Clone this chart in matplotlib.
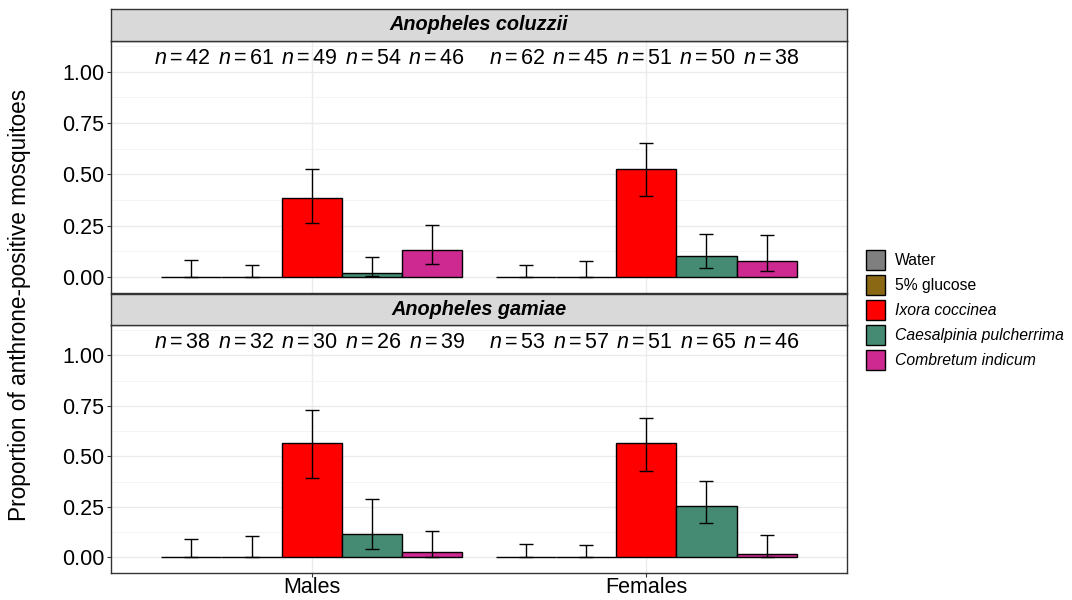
import numpy as np
import matplotlib
matplotlib.use("Agg")
import matplotlib.pyplot as plt
from matplotlib.patches import Patch

plt.rcParams['font.family'] = ['Liberation Sans', 'DejaVu Sans']
plt.rcParams['mathtext.fontset'] = 'custom'
plt.rcParams['mathtext.rm'] = 'Liberation Sans'
plt.rcParams['mathtext.it'] = 'Liberation Sans:italic'

# data
species = ['Anopheles coluzzii', 'Anopheles gamiae']
sexes = ['Males', 'Females']
treatments = ['Water', '5% glucose', 'Ixora coccinea',
              'Caesalpinia pulcherrima', 'Combretum indicum']
colors = ['#7F7F7F', '#8B6914', '#FF0000', '#458B74', '#CD2990']

# proportion [species][sex][treatment]
prop = [[[0, 0, 0.384, 0.018, 0.130], [0, 0, 0.527, 0.101, 0.078]],
        [[0, 0, 0.566, 0.114, 0.025], [0, 0, 0.565, 0.256, 0.018]]]
lower = [[[0, 0, 0.263, 0.003, 0.062], [0, 0, 0.394, 0.044, 0.029]],
         [[0, 0, 0.394, 0.041, 0.003], [0, 0, 0.428, 0.168, 0.002]]]
upper = [[[0.084, 0.058, 0.525, 0.099, 0.255], [0.060, 0.080, 0.655, 0.211, 0.206]],
         [[0.091, 0.106, 0.727, 0.290, 0.130], [0.064, 0.059, 0.690, 0.376, 0.111]]]
counts = [[[42, 61, 49, 54, 46], [62, 45, 51, 50, 38]],
          [[38, 32, 30, 26, 39], [53, 57, 51, 65, 46]]]

W, H = 1072, 600
fig = plt.figure(figsize=(W / 100, H / 100), dpi=100)

# (panel top, panel bottom, strip top) in pixels
panels = [(41, 293, 9), (325, 573, 294)]
dodge = 0.9
bw = dodge / len(treatments)
lab_step = 0.19
xc = np.arange(1, len(sexes) + 1)

for si, (top, bot, stop) in enumerate(panels):
    ax = fig.add_axes([111 / W, (H - bot) / H, 736 / W, (bot - top) / H])
    sax = fig.add_axes([111 / W, (H - top) / H, 736 / W, (top - stop) / H])
    for ti in range(len(treatments)):
        xs = xc - dodge / 2 + bw * (ti + 0.5)
        vals = np.array([prop[si][g][ti] for g in range(len(sexes))])
        lo = np.array([lower[si][g][ti] for g in range(len(sexes))])
        hi = np.array([upper[si][g][ti] for g in range(len(sexes))])
        ax.bar(xs, vals, width=bw, color=colors[ti], edgecolor='black',
               linewidth=1.0, zorder=2)
        ax.errorbar(xs, vals, yerr=[vals - lo, hi - vals], fmt='none',
                    ecolor='black', elinewidth=1.0, capsize=5, capthick=1.0,
                    zorder=3)
        for g in range(len(sexes)):
            xl = xc[g] - 0.006 + (ti - 2) * lab_step
            ax.text(xl, 1.065, r'$n = %d$' % counts[si][g][ti],
                    ha='center', va='center', fontsize=15.5)
    ax.set_xlim(0.4, 2.6)
    ax.set_ylim(-0.078, 1.15)
    ax.set_yticks([0, 0.25, 0.5, 0.75, 1.0])
    ax.set_yticklabels(['0.00', '0.25', '0.50', '0.75', '1.00'], fontsize=15.5)
    ax.set_yticks([0.125, 0.375, 0.625, 0.875, 1.125], minor=True)
    ax.set_xticks(xc)
    if si == 1:
        ax.set_xticklabels(sexes, fontsize=15.5)
    else:
        ax.set_xticklabels([])
    ax.grid(True, which='major', color='#EBEBEB', linewidth=1.0, zorder=0)
    ax.grid(True, which='minor', axis='y', color='#F2F2F2', linewidth=0.6, zorder=0)
    ax.set_axisbelow(True)
    ax.tick_params(which='major', length=3, color='#333333', pad=2)
    ax.tick_params(axis='x', which='major', pad=0)
    ax.tick_params(which='minor', length=0)
    for sp in ax.spines.values():
        sp.set_color('#333333')
        sp.set_linewidth(1.0)

    sax.set_facecolor('#D9D9D9')
    sax.set_xticks([])
    sax.set_yticks([])
    for sp in sax.spines.values():
        sp.set_color('#333333')
        sp.set_linewidth(1.0)
    sax.text(0.5, 0.5, species[si], transform=sax.transAxes, ha='center',
             va='center', fontsize=14.3, fontweight='bold', fontstyle='italic')

fig.text(20 / W, 1 - 305 / H, 'Proportion of anthrone-positive mosquitoes',
         rotation=90, ha='center', va='center', fontsize=16.3)

handles = [Patch(facecolor=c, edgecolor='black', linewidth=1.0) for c in colors]
leg = fig.legend(handles, treatments, loc='center left',
                 bbox_to_anchor=(860 / W, 1 - 310 / H), frameon=False,
                 fontsize=11.3, handlelength=1.2, handleheight=1.6,
                 handletextpad=0.6, labelspacing=0.3, borderaxespad=0)
for i, t in enumerate(leg.get_texts()):
    if i >= 2:
        t.set_fontstyle('italic')

fig.savefig('out.png', dpi=100)
